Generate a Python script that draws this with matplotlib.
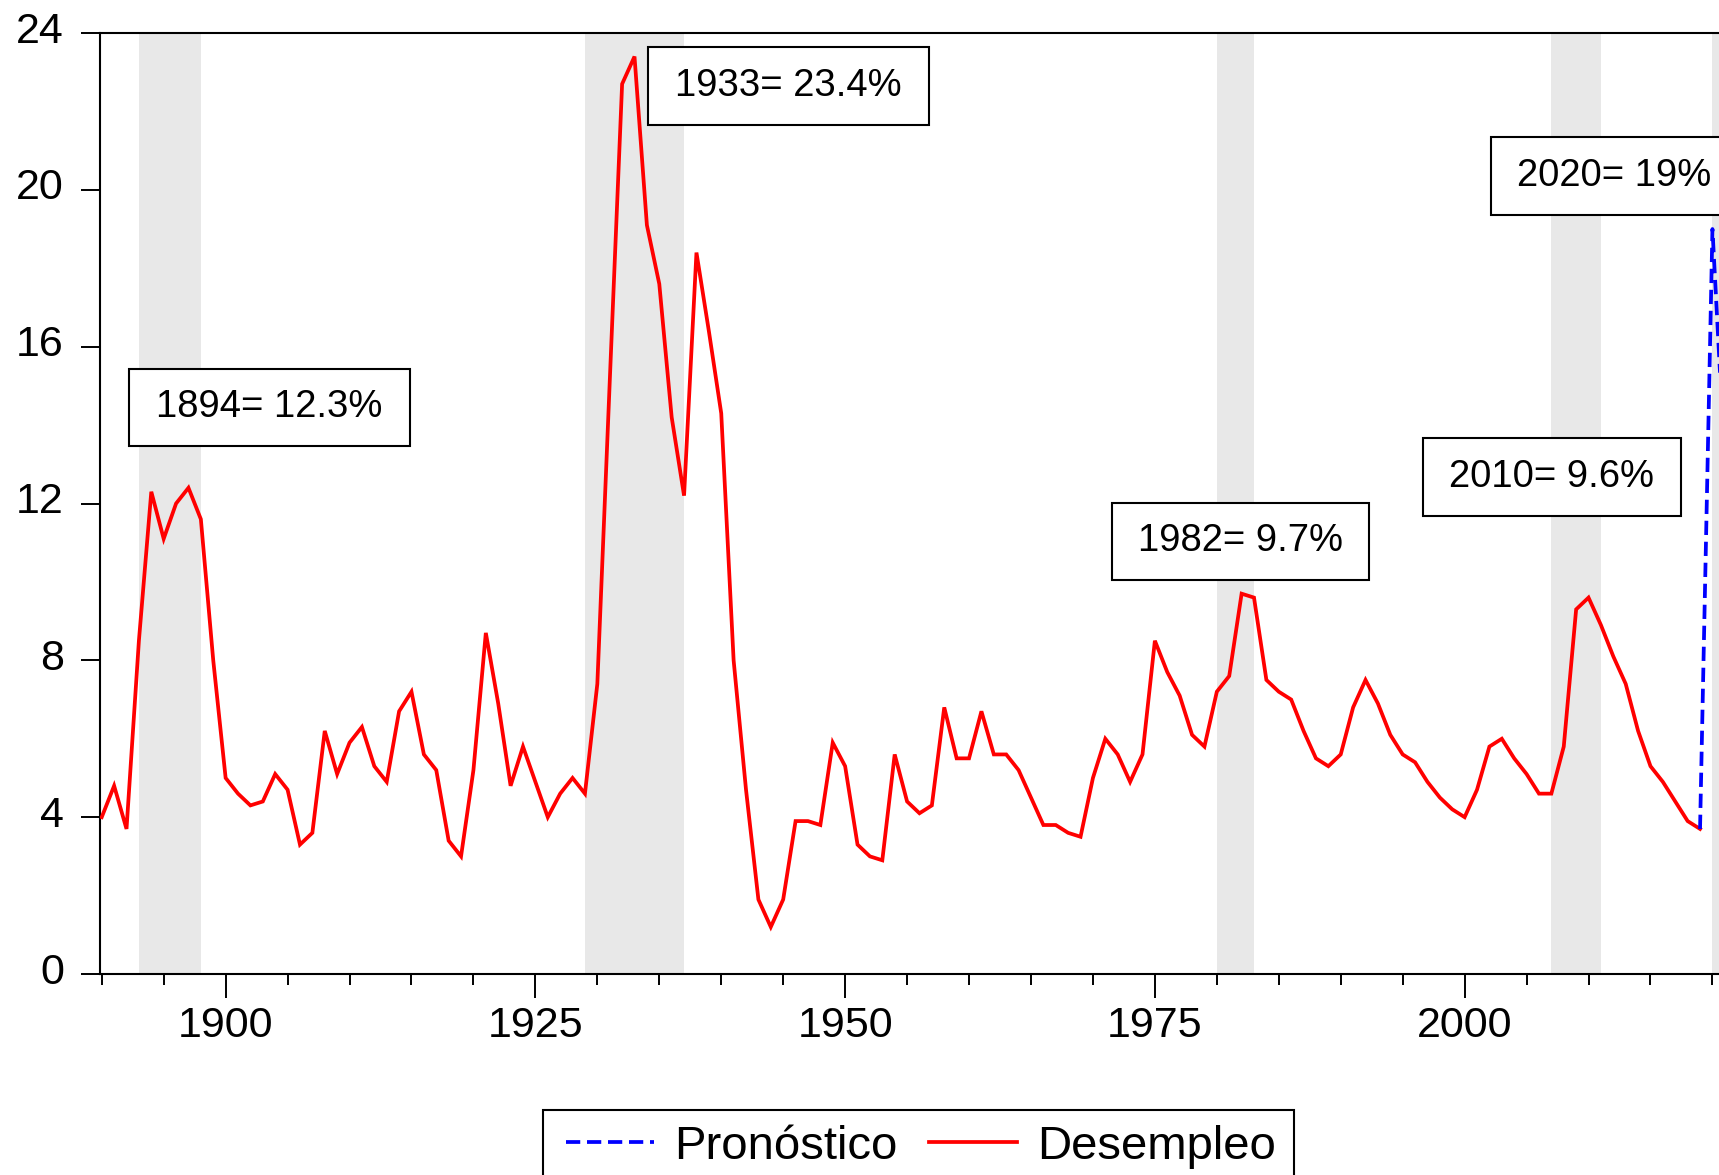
import matplotlib
matplotlib.use("Agg")
import matplotlib.pyplot as plt
from matplotlib.ticker import MultipleLocator
from matplotlib.patches import Rectangle
from matplotlib.lines import Line2D
from matplotlib.transforms import ScaledTranslation

plt.rcParams['font.family'] = ['Liberation Sans', 'DejaVu Sans']

# ---------------- data ----------------
years = list(range(1890, 2020))
unemployment = [
    4.0, 4.8, 3.7, 8.5, 12.3, 11.1, 12.0, 12.4, 11.6, 8.0,            # 1890-1899
    5.0, 4.6, 4.3, 4.4, 5.1, 4.7, 3.3, 3.6, 6.2, 5.1,                  # 1900-1909
    5.9, 6.3, 5.3, 4.9, 6.7, 7.2, 5.6, 5.2, 3.4, 3.0,                  # 1910-1919
    5.2, 8.7, 6.9, 4.8, 5.8, 4.9, 4.0, 4.6, 5.0, 4.6,                  # 1920-1929
    7.4, 15.1, 22.7, 23.4, 19.1, 17.6, 14.2, 12.2, 18.4, 16.4,         # 1930-1939
    14.3, 8.0, 4.7, 1.9, 1.2, 1.9, 3.9, 3.9, 3.8, 5.9,                 # 1940-1949
    5.3, 3.3, 3.0, 2.9, 5.6, 4.4, 4.1, 4.3, 6.8, 5.5,                  # 1950-1959
    5.5, 6.7, 5.6, 5.6, 5.2, 4.5, 3.8, 3.8, 3.6, 3.5,                  # 1960-1969
    5.0, 6.0, 5.6, 4.9, 5.6, 8.5, 7.7, 7.1, 6.1, 5.8,                  # 1970-1979
    7.2, 7.6, 9.7, 9.6, 7.5, 7.2, 7.0, 6.2, 5.5, 5.3,                  # 1980-1989
    5.6, 6.8, 7.5, 6.9, 6.1, 5.6, 5.4, 4.9, 4.5, 4.2,                  # 1990-1999
    4.0, 4.7, 5.8, 6.0, 5.5, 5.1, 4.6, 4.6, 5.8, 9.3,                  # 2000-2009
    9.6, 8.9, 8.1, 7.4, 6.2, 5.3, 4.9, 4.4, 3.9, 3.7,                  # 2010-2019
]
forecast_years = [2019, 2020, 2021]
forecast_values = [3.7, 19.0, 13.0]

recession_start = [1893, 1929, 1980, 2007, 2020]
recession_end = [1898, 1937, 1983, 2011, 2021]

ann_texts = ["1894= 12.3%", "1933= 23.4%", "1982= 9.7%", "2010= 9.6%", "2020= 19%"]
# box extents (x0, x1 in years; y0, y1 in % units)
ann_x0 = [1892.2, 1934.1, 1971.5, 1996.6, 2002.1]
ann_x1 = [1914.9, 1956.8, 1992.3, 2017.5, 2022.0]
ann_y0 = [13.47, 21.66, 10.05, 11.68, 19.36]
ann_y1 = [15.43, 23.65, 12.02, 13.67, 21.35]

yticks = [0, 4, 8, 12, 16, 20, 24]

# ---------------- layout ----------------
W, H = 1719, 1175
fig = plt.figure(figsize=(W / 100, H / 100), dpi=100)
xmin, xmax = 1889.86, 2023.0
px_per_year = 12.39
ax = fig.add_axes([100 / W, 1 - 974 / H, (xmax - xmin) * px_per_year / W, 941 / H])

for s, e in zip(recession_start, recession_end):
    ax.axvspan(s, e, color='#e8e8e8', lw=0, zorder=0)

ax.plot(years, unemployment, color='#ff0000', lw=2.7, zorder=3,
        solid_joinstyle='miter')
ax.plot(forecast_years, forecast_values, color='#0000ff', lw=2.7,
        dashes=(3.8, 1.8), zorder=3)

ax.set_xlim(xmin, xmax)
ax.set_ylim(0, 24)
ax.set_yticks(yticks)
ax.xaxis.set_major_locator(MultipleLocator(25))
ax.xaxis.set_minor_locator(MultipleLocator(5))

for side in ['left', 'top', 'bottom']:
    ax.spines[side].set_linewidth(1.5)
ax.spines['right'].set_visible(False)

ax.tick_params(axis='x', which='major', direction='out', length=17, width=1.4,
               labelsize=31, pad=6)
ax.tick_params(axis='x', which='minor', direction='out', length=8, width=1.4)
ax.tick_params(axis='y', which='major', direction='out', length=14, width=1.4,
               labelsize=31, pad=12)
ax.tick_params(axis='y', which='minor', left=False)

offset = ScaledTranslation(0, 6 / 100, fig.dpi_scale_trans)
for lab in ax.get_yticklabels():
    lab.set_transform(lab.get_transform() + offset)

# annotation boxes
for t, x0, x1, y0, y1 in zip(ann_texts, ann_x0, ann_x1, ann_y0, ann_y1):
    ax.add_patch(Rectangle((x0, y0), x1 - x0, y1 - y0, facecolor='white',
                           edgecolor='black', lw=1.5, zorder=5, clip_on=False))
    ax.text((x0 + x1) / 2, (y0 + y1) / 2, t, ha='center', va='center',
            fontsize=27.5, zorder=6, clip_on=False)

# legend
handles = [Line2D([], [], color='#0000ff', lw=2.7, dashes=(3.8, 1.8)),
           Line2D([], [], color='#ff0000', lw=2.7)]
leg = fig.legend(handles, ['Pronóstico', 'Desempleo'], loc='upper center',
                 bbox_to_anchor=(921 / W, 1 - 1125 / H), ncol=2, frameon=False,
                 fontsize=34, handlelength=1.87, handletextpad=0.43,
                 columnspacing=0.66, borderpad=0, borderaxespad=0)
fig.patches.append(Rectangle((543 / W, 1 - 1210 / H), (1294 - 543) / W, 100 / H,
                             transform=fig.transFigure, facecolor='white',
                             edgecolor='black', lw=1.5, zorder=0))

fig.savefig('out.png', dpi=100)
